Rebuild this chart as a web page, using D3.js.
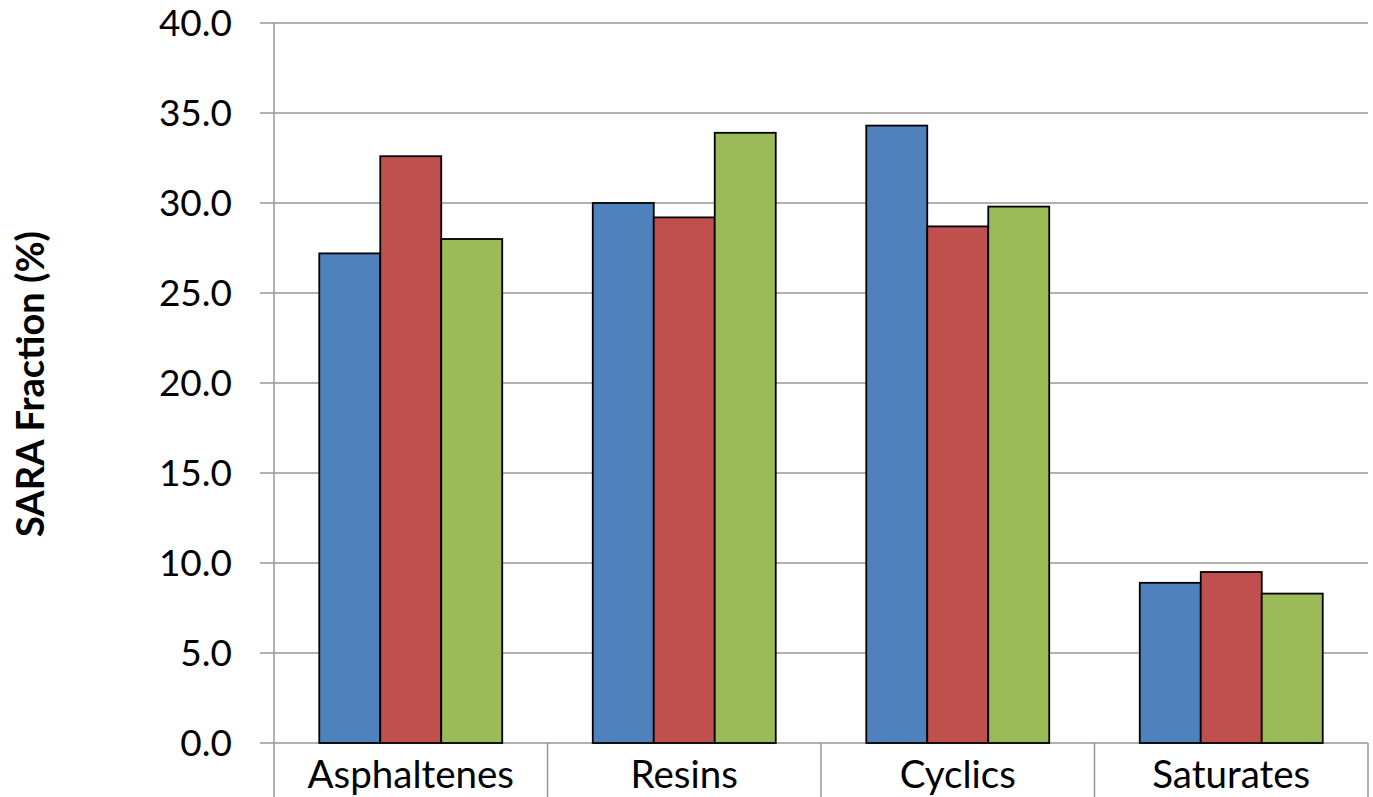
<!DOCTYPE html>
<html>
<head>
<meta charset="utf-8">
<script src="https://cdn.jsdelivr.net/npm/d3@7"></script>
<style>
  html, body { margin: 0; padding: 0; background: #fff; }
  svg { display: block; }
  text { font-family: Lato, "Open Sans", sans-serif; fill: #000; }
</style>
</head>
<body>
<svg id="chart" width="1373" height="797"></svg>
<script>
// SARA fractions (%) per sample
const categories = ["Asphaltenes", "Resins", "Cyclics", "Saturates"];
const seriesNames = ["Sample 1", "Sample 2", "Sample 3"];
const sample1 = [27.2, 30.0, 34.3, 8.9];
const sample2 = [32.6, 29.2, 28.7, 9.5];
const sample3 = [28.0, 33.9, 29.8, 8.3];
const yTicks = [0, 5, 10, 15, 20, 25, 30, 35, 40];
const colors = ["#4F81BD", "#C0504D", "#9BBB59"];

const series = [sample1, sample2, sample3];

const svg = d3.select("#chart");
const W = 1373, H = 797;
const margin = { left: 274, right: 5, top: 23, bottom: 54 };
const plotBottom = H - margin.bottom;

const x0 = d3.scaleBand()
  .domain(categories)
  .range([margin.left, W - margin.right])
  .paddingInner(0)
  .paddingOuter(0);

const x1 = d3.scaleBand()
  .domain(d3.range(series.length))
  .range([x0.bandwidth() * 0.1655, x0.bandwidth() * (1 - 0.1655)])
  .padding(0);

const y = d3.scaleLinear().domain([0, 40]).range([plotBottom, margin.top]);

const gridColor = "#979797";

// horizontal gridlines with outside tick marks
svg.append("g")
  .selectAll("line")
  .data(yTicks)
  .join("line")
  .attr("x1", margin.left - 14)
  .attr("x2", W - margin.right)
  .attr("y1", d => y(d))
  .attr("y2", d => y(d))
  .attr("stroke", gridColor)
  .attr("stroke-width", 1.5);

// y tick labels
svg.append("g")
  .selectAll("text")
  .data(yTicks)
  .join("text")
  .attr("x", margin.left - 42)
  .attr("y", d => y(d))
  .attr("dy", "0.36em")
  .attr("text-anchor", "end")
  .style("font-size", "37px")
  .text(d => d.toFixed(1));

// bars
const groups = svg.append("g")
  .selectAll("g")
  .data(categories)
  .join("g")
  .attr("transform", d => `translate(${x0(d)},0)`);

groups.selectAll("rect")
  .data((d, i) => series.map((s, k) => ({ k, v: s[i] })))
  .join("rect")
  .attr("x", d => x1(d.k))
  .attr("width", x1.bandwidth())
  .attr("y", d => y(d.v))
  .attr("height", d => y(0) - y(d.v))
  .attr("fill", d => colors[d.k])
  .attr("stroke", "#000")
  .attr("stroke-width", 1.8);

// vertical axis line
svg.append("line")
  .attr("x1", margin.left).attr("x2", margin.left)
  .attr("y1", margin.top).attr("y2", H)
  .attr("stroke", gridColor).attr("stroke-width", 1.5);

// category dividers below the axis
const dividers = categories.map(c => x0(c)).concat([x0(categories[categories.length - 1]) + x0.bandwidth()]);
svg.append("g")
  .selectAll("line")
  .data(dividers.slice(1))
  .join("line")
  .attr("x1", d => d).attr("x2", d => d)
  .attr("y1", plotBottom).attr("y2", H)
  .attr("stroke", gridColor).attr("stroke-width", 1.5);

// category labels
svg.append("g")
  .selectAll("text")
  .data(categories)
  .join("text")
  .attr("x", d => x0(d) + x0.bandwidth() / 2)
  .attr("y", plotBottom + 45)
  .attr("text-anchor", "middle")
  .style("font-size", "38.5px")
  .text(d => d);

// y axis title
svg.append("text")
  .attr("transform", `translate(44, 384) rotate(-90)`)
  .attr("text-anchor", "middle")
  .style("font-size", "38px")
  .style("font-weight", "bold")
  .text("SARA Fraction (%)");
</script>
</body>
</html>
